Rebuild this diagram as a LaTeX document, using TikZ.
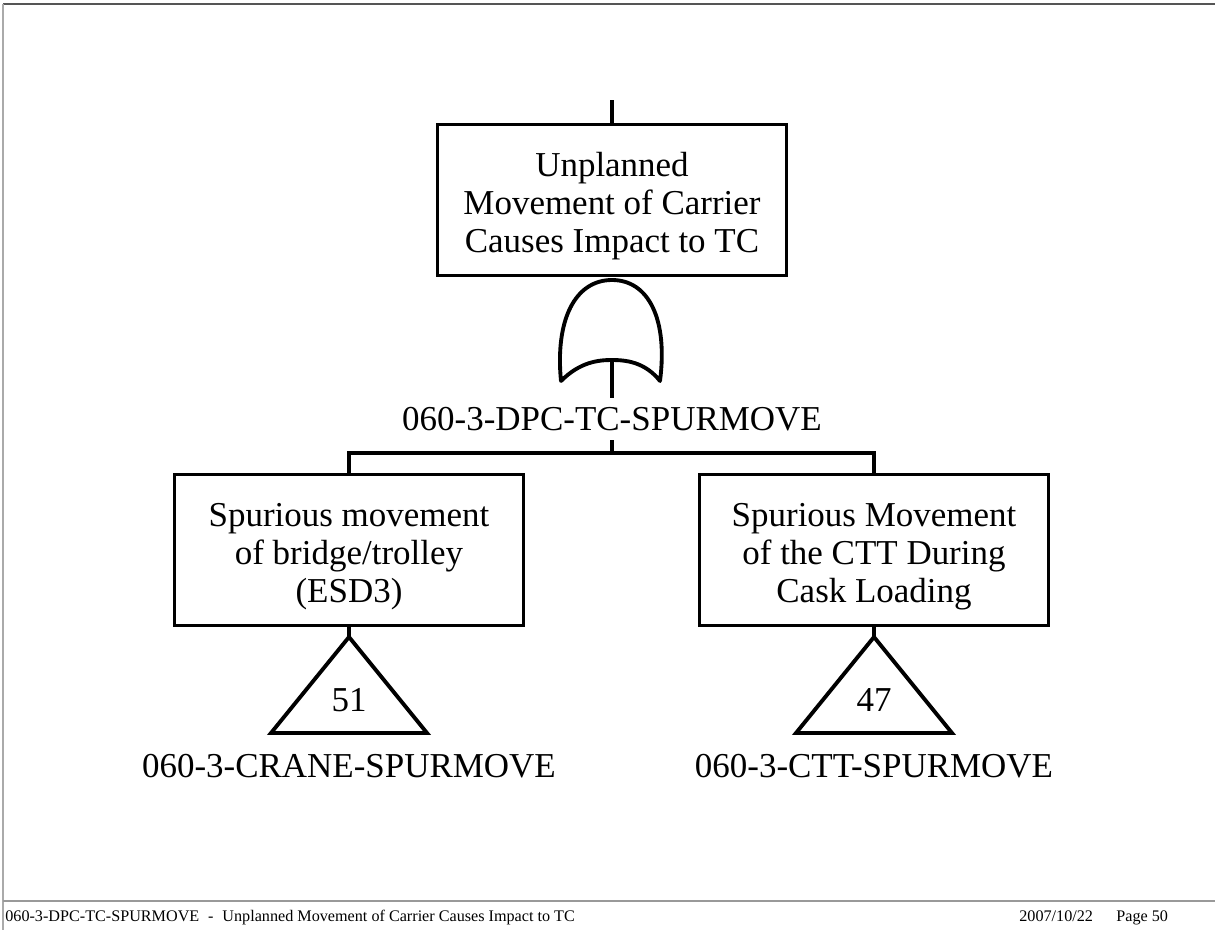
\documentclass[tikz,border=0pt]{standalone}
\usepackage{fontspec}
\setmainfont{Liberation Serif}
\definecolor{framedark}{HTML}{555555}
\definecolor{framelight}{HTML}{AAAAAA}
\definecolor{footrule}{HTML}{999999}
\newcommand\evfont{\fontsize{19.9}{21.8}\selectfont}
\newcommand\footfont{\fontsize{9.2}{11}\selectfont}

\begin{document}
\begin{tikzpicture}[x=0.02cm,y=-0.02cm,
  evbox/.style={draw,line width=2.2pt,minimum width=6.98cm,minimum height=3.02cm,
    align=center,inner sep=0pt,text height=2.28cm,text depth=0.16cm,font=\evfont},
  wire/.style={line width=2.2pt},
  tag/.style={font=\evfont,inner sep=0pt},
  foot/.style={font=\footfont,anchor=base west,inner sep=0pt}]
  \useasboundingbox (0,0) rectangle (1215,930);
  % page frame
  \draw[framedark,line width=0.85pt] (3,4) -- (1215,4);
  \draw[framelight,line width=0.75pt] (3,4) -- (3,930);
  \draw[footrule,line width=0.7pt] (3,901) -- (1215,901);

  % top event and OR gate
  \node[evbox] (top) at (612,200) {Unplanned\\Movement of Carrier\\Causes Impact to TC};
  \coordinate (topin) at (612,100);
  \draw[wire] (topin) -- (top.north);
  \coordinate (gapex) at (612,280);
  \coordinate (gtipl) at (561,381);
  \coordinate (gtipr) at (660,381);
  \coordinate (gout) at (612,360);
  \draw[wire,line join=round,line cap=round] (gtipl) .. controls (555,320) and (575,280) .. (gapex)
    .. controls (649,280) and (668,320) .. (gtipr)
    .. controls (645,362) and (626,360) .. (gout)
    .. controls (598,360) and (580,362) .. (gtipl);
  \node[tag,minimum height=0.84cm] (glbl) at (612,419) {060-3-DPC-TC-SPURMOVE};
  \draw[wire] (gout) -- (glbl.north);
  \coordinate (bar) at (612,453);
  \draw[wire] (glbl.south) -- (bar);

  % branches with transfer triangles
  \foreach \nm/\xx/\txt/\num/\lbl in {crane/349/{Spurious movement\\of bridge/trolley\\(ESD3)}/51/{060-3-CRANE-SPURMOVE},
      ctt/874/{Spurious Movement\\of the CTT During\\Cask Loading}/47/{060-3-CTT-SPURMOVE}}{
    \node[evbox] (\nm) at (\xx,550) {\txt};
    \coordinate (\nm tri) at (\xx,637);
    \draw[wire] (\nm.south) -- (\nm tri);
    \draw[wire] (\nm tri) -- ++(78,96) -- ++(-156,0) -- cycle;
    \node[tag] (\nm num) at (\xx,700) {\num};
    \node[tag] (\nm lbl) at (\xx,766) {\lbl};
  }
  \draw[wire] (crane.north) |- (bar) -| (ctt.north);

  % footer
  \node[foot] (foottxt) at (5,921) {060-3-DPC-TC-SPURMOVE\hspace{0.55em}-\hspace{0.55em}Unplanned Movement of Carrier Causes Impact to TC};
  \node[foot] (footdate) at (1019,921) {2007/10/22};
  \node[foot] (footpage) at (1116,921) {Page 50};
\end{tikzpicture}
\end{document}
